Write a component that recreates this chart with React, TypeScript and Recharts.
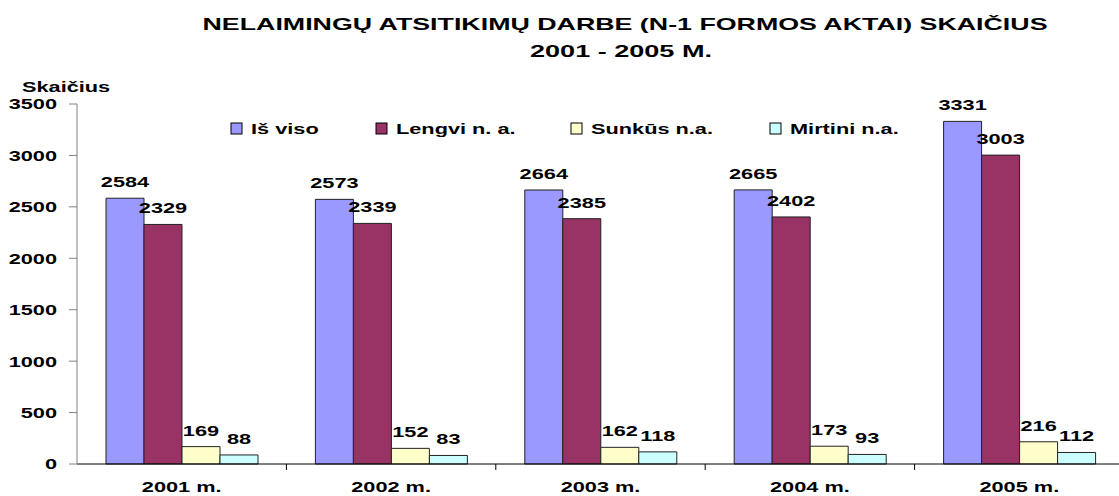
import React from 'react';
import { BarChart, Bar, XAxis, YAxis, Legend, LabelList } from 'recharts';

// ---------- data ----------
const categories = ['2001 m.', '2002 m.', '2003 m.', '2004 m.', '2005 m.'];
const isViso = [2584, 2573, 2664, 2665, 3331];
const lengvi = [2329, 2339, 2385, 2402, 3003];
const sunkus = [169, 152, 162, 173, 216];
const mirtini = [88, 83, 118, 93, 112];

const seriesKeys = ['isViso', 'lengvi', 'sunkus', 'mirtini'];
const seriesNames = ['Iš viso', 'Lengvi n. a.', 'Sunkūs n.a.', 'Mirtini n.a.'];
const seriesColors = ['#9999FF', '#993366', '#FFFFCC', '#CCFFFF'];
const seriesValues = [isViso, lengvi, sunkus, mirtini];

const yTicks = [0, 500, 1000, 1500, 2000, 2500, 3000, 3500];
const titleLines = ['NELAIMINGŲ ATSITIKIMŲ DARBE (N-1 FORMOS AKTAI) SKAIČIUS', '2001 - 2005 M.'];
const yAxisTitle = 'Skaičius';

const data = categories.map((c, i) => {
  const row: Record<string, any> = { category: c };
  seriesKeys.forEach((k, s) => {
    row[k] = seriesValues[s][i];
  });
  return row;
});

// ---------- layout ----------
const PAGE_W = 1119;
const PAGE_H = 496;
const CHART_W = 1124;
const X_AXIS_H = 32;
const MARGIN = { top: 104, right: 0, bottom: 0, left: 0 };
const Y_AXIS_W = 77;
const BAND = (CHART_W - MARGIN.left - MARGIN.right - Y_AXIS_W) / categories.length;
const SX = 1.45;
const FONT = '"Liberation Sans", Arial, sans-serif';
const LEGEND_X = [231, 376, 571, 770];

const XTick = (props: any) => {
  const { x, y, payload } = props;
  const half = BAND / 2;
  return (
    <g>
      <line x1={x + half} x2={x + half} y1={y} y2={y + 6} stroke="#000" strokeWidth={1} />
      <text
        transform={`translate(${x},${y + 28}) scale(${SX},1)`}
        textAnchor="middle"
        fontSize={15}
        fontWeight="bold"
        fontFamily={FONT}
        fill="#000"
      >
        {payload.value}
      </text>
    </g>
  );
};

const YTick = (props: any) => {
  const { x, y, payload } = props;
  return (
    <text
      transform={`translate(${x},${y}) scale(${SX},1)`}
      dy="0.36em"
      textAnchor="end"
      fontSize={15}
      fontWeight="bold"
      fontFamily={FONT}
      fill="#000"
    >
      {payload.value}
    </text>
  );
};

const BarLabel = (props: any) => {
  const { x, y, width, value } = props;
  const cx = Number(x) + Number(width) / 2;
  return (
    <text
      transform={`translate(${cx},${Number(y) - 11}) scale(${SX},1)`}
      textAnchor="middle"
      fontSize={15}
      fontWeight="bold"
      fontFamily={FONT}
      fill="#000"
    >
      {value}
    </text>
  );
};

const LegendContent = () => (
  <svg width={PAGE_W} height={26} style={{ display: 'block' }}>
    {seriesNames.map((n, i) => (
      <g key={n}>
        <rect x={LEGEND_X[i]} y={7} width={11} height={11} fill={seriesColors[i]} stroke="#000" strokeWidth={1} />
        <text
          transform={`translate(${LEGEND_X[i] + 20},${18}) scale(${SX},1)`}
          fontSize={15}
          fontWeight="bold"
          fontFamily={FONT}
          fill="#000"
        >
          {n}
        </text>
      </g>
    ))}
  </svg>
);

export default function App() {
  return (
    <div
      style={{
        position: 'absolute',
        left: 0,
        top: 0,
        width: PAGE_W,
        height: PAGE_H,
        overflow: 'hidden',
        background: '#fff',
      }}
    >
      <BarChart
        width={CHART_W}
        height={PAGE_H}
        data={data}
        margin={MARGIN}
        barCategoryGap={29}
        barGap={0}
      >
        <XAxis
          dataKey="category"
          axisLine={{ stroke: '#000', strokeWidth: 1 }}
          tickLine={false}
          tickSize={0}
          tickMargin={0}
          tick={<XTick />}
          interval={0}
          height={X_AXIS_H}
        />
        <YAxis
          width={Y_AXIS_W}
          domain={[0, 3500]}
          ticks={yTicks}
          interval={0}
          axisLine={{ stroke: '#808080', strokeWidth: 1 }}
          tickLine={{ stroke: '#808080', strokeWidth: 1 }}
          tickSize={8}
          tickMargin={12}
          tick={<YTick />}
        />
        <Legend
          verticalAlign="middle"
          layout="horizontal"
          content={<LegendContent />}
          wrapperStyle={{ top: 116, left: 0, width: PAGE_W, height: 26 }}
        />
        {seriesKeys.map((k, i) => (
          <Bar
            key={k}
            dataKey={k}
            name={seriesNames[i]}
            fill={seriesColors[i]}
            stroke="#222"
            strokeWidth={1}
            isAnimationActive={false}
          >
            <LabelList dataKey={k} content={<BarLabel />} />
          </Bar>
        ))}
      </BarChart>
      <svg
        width={PAGE_W}
        height={100}
        style={{ position: 'absolute', left: 0, top: 0, pointerEvents: 'none' }}
      >
        <text
          x={625}
          y={30}
          textAnchor="middle"
          fontSize={17}
          fontWeight="bold"
          fontFamily={FONT}
          fill="#000"
          textLength={845}
          lengthAdjust="spacingAndGlyphs"
        >
          {titleLines[0]}
        </text>
        <text
          x={621}
          y={57}
          textAnchor="middle"
          fontSize={17}
          fontWeight="bold"
          fontFamily={FONT}
          fill="#000"
          textLength={182}
          lengthAdjust="spacingAndGlyphs"
        >
          {titleLines[1]}
        </text>
        <text
          transform={`translate(22,92) scale(${SX},1)`}
          fontSize={15}
          fontWeight="bold"
          fontFamily={FONT}
          fill="#000"
        >
          {yAxisTitle}
        </text>
      </svg>
    </div>
  );
}
